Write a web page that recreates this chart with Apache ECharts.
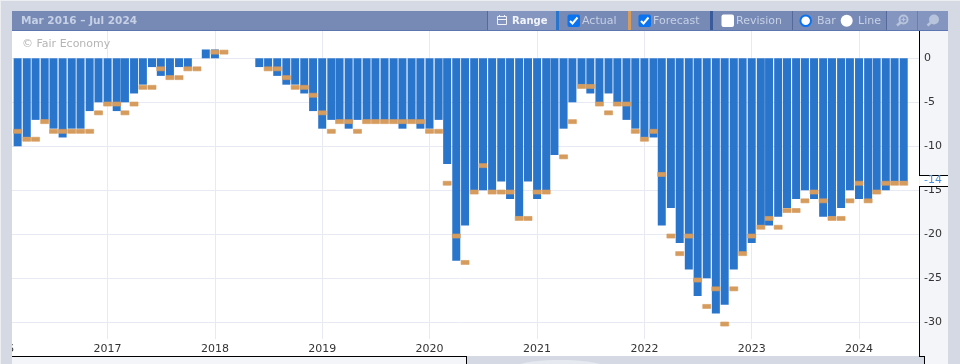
<!DOCTYPE html>
<html>
<head>
<meta charset="utf-8">
<title>Mar 2016 - Jul 2024</title>
<style>
html,body{margin:0;padding:0;background:#d4d9e3;overflow:hidden}
#chart{width:960px;height:364px}
</style>
<script src="https://cdn.jsdelivr.net/npm/echarts@6/dist/echarts.min.js"></script>
</head>
<body>
<div id="chart"></div>
<script>
// one value per month, Mar 2016 - Jun 2024
var months = [
  '2016-03','2016-04','2016-05','2016-06','2016-07','2016-08','2016-09','2016-10','2016-11','2016-12',
  '2017-01','2017-02','2017-03','2017-04','2017-05','2017-06','2017-07','2017-08','2017-09','2017-10','2017-11','2017-12',
  '2018-01','2018-02','2018-03','2018-04','2018-05','2018-06','2018-07','2018-08','2018-09','2018-10','2018-11','2018-12',
  '2019-01','2019-02','2019-03','2019-04','2019-05','2019-06','2019-07','2019-08','2019-09','2019-10','2019-11','2019-12',
  '2020-01','2020-02','2020-03','2020-04','2020-05','2020-06','2020-07','2020-08','2020-09','2020-10','2020-11','2020-12',
  '2021-01','2021-02','2021-03','2021-04','2021-05','2021-06','2021-07','2021-08','2021-09','2021-10','2021-11','2021-12',
  '2022-01','2022-02','2022-03','2022-04','2022-05','2022-06','2022-07','2022-08','2022-09','2022-10','2022-11','2022-12',
  '2023-01','2023-02','2023-03','2023-04','2023-05','2023-06','2023-07','2023-08','2023-09','2023-10','2023-11','2023-12',
  '2024-01','2024-02','2024-03','2024-04','2024-05','2024-06'
];
var actual = [
  -10,-9,-7,-7,-8,-9,-8,-8,-6,-5,
  -5,-6,-5,-4,-3,-1,-2,-2,-1,-1,null,1,
  1,null,null,null,null,-1,-1,-2,-3,-3,-4,-6,
  -8,-7,-7,-8,-7,-7,-7,-7,-7,-8,-7,-8,
  -8,-7,-12,-23,-19,-15,-15,-15,-14,-16,-18,-14,
  -16,-15,-11,-8,-5,-3,-4,-5,-4,-5,-7,-8,
  -9,-9,-19,-17,-21,-24,-27,-25,-29,-28,-24,-22,
  -21,-19,-19,-18,-17,-16,-15,-16,-18,-18,-17,-15,
  -16,-16,-15,-15,-14,-14
];
var forecast = [
  -8.3,-9.2,-9.2,-7.2,-8.3,-8.3,-8.3,-8.3,-8.3,-6.2,
  -5.2,-5.2,-6.2,-5.2,-3.3,-3.3,-1.2,-2.2,-2.2,-1.2,-1.2,null,
  0.7,0.7,null,null,null,null,-1.2,-1.2,-2.2,-3.3,-3.3,-4.2,
  -6.2,-8.3,-7.2,-7.2,-8.3,-7.2,-7.2,-7.2,-7.2,-7.2,-7.2,-7.2,
  -8.3,-8.3,-14.2,-20.2,-23.2,-15.2,-12.2,-15.2,-15.2,-15.2,-18.2,-18.2,
  -15.2,-15.2,null,-11.2,-7.2,-3.2,-3.2,-5.2,-6.2,-5.2,-5.2,-8.3,
  -9.2,-8.3,-13.2,-20.2,-22.2,-20.2,-25.2,-28.2,-26.2,-30.2,-26.2,-22.2,
  -20.2,-19.2,-18.2,-19.2,-17.3,-17.3,-16.2,-15.2,-16.2,-18.2,-18.2,-16.2,
  -14.2,-16.2,-15.2,-14.2,-14.2,-14.2
];
var yTicks = [0,-5,-10,-15,-20,-25,-30];
var yearTicks = ['2016-01-01','2017-01-01','2018-01-01','2019-01-01','2020-01-01','2021-01-01','2022-01-01','2023-01-01','2024-01-01'].map(function(d){ return Date.parse(d); });
var latestLabel = '-14';

var font = 'DejaVu Sans';
var panel = '#d4d9e3', side = '#f4f5f9', head = '#7789b5', btn = '#8496bf', txt = '#c6d1e6';

function toPairs(values){
    return months.map(function(m,i){ return [Date.parse(m+'-01'), values[i]]; });
}
function box(x,y,w,h,fill,z,r){
    return {type:'rect',z:z===undefined?50:z,shape:{x:x,y:y,width:w,height:h,r:r||0},style:{fill:fill},silent:true};
}
function line(x1,y1,x2,y2,color,w){
    return {type:'line',z:51,shape:{x1:x1,y1:y1,x2:x2,y2:y2},style:{stroke:color,lineWidth:w||1},silent:true};
}
function label(x,y,text,color,weight,size){
    return {type:'text',z:52,x:x,y:y,silent:true,style:{text:text,fill:color,font:(weight||'normal')+' '+(size||11)+'px "'+font+'"',textVerticalAlign:'middle',textAlign:'left'}};
}
function checkbox(x,on){
    var els = [box(x,14.5,12.5,12.5,on?'#0a74f0':'#fff',52,2)];
    if(on){
        els.push({type:'polyline',z:53,shape:{points:[[x+2.5,21],[x+5,23.5],[x+10,17.5]]},style:{stroke:'#fff',lineWidth:2,fill:null},silent:true});
    }
    return els;
}
function magnifier(cx,cy,plus){
    var els = [
        {type:'circle',z:52,shape:{cx:cx+1,cy:cy-1,r:4},style:{fill:plus?'none':'#b8c3dc',stroke:'#b8c3dc',lineWidth:2},silent:true},
        line(cx-2,cy+2,cx-5.5,cy+5,'#b8c3dc',2.5)
    ];
    if(plus){
        els.push(line(cx-1,cy-1,cx+3,cy-1,'#b8c3dc',1.2), line(cx+1,cy-3,cx+1,cy+1,'#b8c3dc',1.2));
    }
    return els;
}

var chrome = [
    // panels round the plot
    box(0,0,960,11,panel),
    box(0,0,12,364,panel),
    box(948,0,12,364,panel),
    box(0,0,960,1,'#eceef2'),
    box(0,0,1,364,'#eceef2'),
    box(12,356,454,8,side),
    box(466,356,482,8,panel),
    box(924,356,24,8,side),
    box(919,31,29,325,side,-1),
    {type:'ellipse',z:51,shape:{cx:560,cy:366,rx:42,ry:6},style:{fill:'#e6e9f0'},silent:true},
    line(12,356.5,466.5,356.5,'#000'),
    line(466.5,356,466.5,364,'#000'),
    line(919.5,31,919.5,175,'#000'),
    line(919.5,186,919.5,356.5,'#000'),
    line(919,356.5,924.5,356.5,'#000'),
    line(924.5,356,924.5,364,'#000'),
    line(919,175.5,948,175.5,'#000'),
    line(919,186.5,948,186.5,'#000'),
    box(920,176,28,10,'#fff'),
    // header
    box(12,11,936,19,head),
    box(12,30,936,1,'#5b76b1'),
    box(488,11,68,19,btn),
    box(887,11,61,19,btn),
    box(487,11,1,19,'#55699b'),
    box(556,11,3,19,'#2a75cc'),
    box(628,11,3,19,'#d69c5e'),
    box(710,11,3,19,'#3a5a9a'),
    box(792,11,1,19,'#55699b'),
    box(886,11,1,19,'#55699b'),
    box(917,11,1,19,'#6b7eac'),
    label(21,21,'Mar 2016 \u2013 Jul 2024',txt,'bold',10.5),
    {type:'rect',z:52,shape:{x:497.5,y:16.5,width:9,height:8},style:{fill:'none',stroke:'#eef1f7',lineWidth:1},silent:true},
    line(497,19.5,507,19.5,'#eef1f7'),
    line(499.5,15,499.5,17,'#eef1f7'),
    line(504.5,15,504.5,17,'#eef1f7'),
    label(512,21,'Range','#f1f4fa','bold',10),
    label(582,21,'Actual',txt),
    label(653,21,'Forecast',txt),
    label(736,21,'Revision',txt),
    {type:'circle',z:52,shape:{cx:805.7,cy:20.7,r:5.3},style:{fill:'#fff',stroke:'#0a74f0',lineWidth:2},silent:true},
    label(817,21,'Bar',txt),
    {type:'circle',z:52,shape:{cx:846.7,cy:20.7,r:6},style:{fill:'#fff'},silent:true},
    label(858,21,'Line',txt),
    label(22,44,'\u00a9 Fair Economy','#b5b5b5')
].concat(checkbox(567.5,true),checkbox(638.5,true),checkbox(721.5,false),magnifier(902.5,20.5,true),magnifier(933,20.5,false));

var chart = echarts.init(document.getElementById('chart'));

chart.setOption({
    animation:false,
    backgroundColor:'#fff',
    textStyle:{fontFamily:font},
    grid:{left:0,top:31,width:919,height:308,outerBoundsMode:'none'},
    xAxis:{
        type:'value',
        min:Date.parse('2016-01-01'),
        max:Date.parse('2024-07-23'),
        axisLine:{show:false},
        axisTick:{show:false,customValues:yearTicks},
        axisLabel:{
            customValues:yearTicks,
            fontSize:11,
            color:'#333',
            margin:5,
            formatter:function(v){ return String(new Date(v).getUTCFullYear()); }
        },
        splitLine:{show:true,lineStyle:{color:'#e7e9f3',width:1}}
    },
    yAxis:{
        type:'value',
        position:'right',
        min:-31.9,
        max:3.1,
        axisLine:{show:false},
        axisTick:{show:false,customValues:yTicks},
        axisLabel:{customValues:yTicks,fontSize:11,color:'#333',margin:5},
        splitLine:{show:true,lineStyle:{color:'#e7e9f3',width:1}}
    },
    graphic:{elements:chrome},
    series:[
        {
            name:'Actual',
            type:'bar',
            data:toPairs(actual),
            barWidth:8,
            itemStyle:{color:'#2a75cc'}
        },
        {
            name:'Forecast',
            type:'scatter',
            data:toPairs(forecast),
            symbol:'rect',
            symbolSize:[8,4],
            itemStyle:{color:'#d69c5e',opacity:1,borderColor:'#d69c5e',borderWidth:0.6},
            z:5
        }
    ]
});

// latest actual value sits on the axis
var latest = label(924,chart.convertToPixel({yAxisIndex:0},actual[actual.length-1])-1,latestLabel,'#4a90e0');
latest.id = 'latest';
chart.setOption({graphic:{elements:[latest]}});
</script>
</body>
</html>
